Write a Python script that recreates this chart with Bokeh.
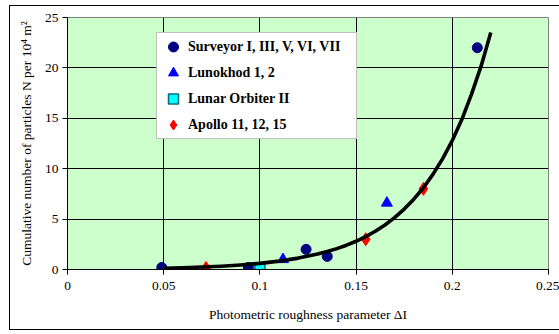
import numpy as np
from bokeh.plotting import figure
from bokeh.models import (Legend, LegendItem, FixedTicker, Range1d, InlineStyleSheet)
from bokeh.embed import file_html
from bokeh.resources import INLINE

# ---- data ----
surveyor_x = [0.049, 0.094, 0.124, 0.135, 0.213]
surveyor_y = [0.2, 0.2, 2.0, 1.3, 22.0]
lunokhod_x = [0.112, 0.166]
lunokhod_y = [1.0, 6.6]
orbiter_x = [0.100]
orbiter_y = [0.05]
apollo_x = [0.072, 0.155, 0.185]
apollo_y = [0.15, 3.0, 8.0]
# trend curve
trend_x = [0.05, 0.06, 0.07, 0.08, 0.09, 0.10, 0.11, 0.12, 0.13, 0.135, 0.14, 0.145,
           0.15, 0.155, 0.16, 0.165, 0.17, 0.175, 0.18, 0.185, 0.19, 0.195,
           0.20, 0.205, 0.21, 0.215, 0.22]
trend_y = [0.13, 0.18, 0.25, 0.33, 0.45, 0.61, 0.83, 1.13, 1.53, 1.78, 2.07, 2.41,
           2.80, 3.26, 3.80, 4.42, 5.15, 5.99, 6.98, 8.11, 9.46, 11.0,
           12.8, 14.9, 17.4, 20.2, 23.5]
series_labels = ["Surveyor I, III, V, VI, VII", "Lunokhod 1, 2",
                 "Lunar Orbiter II", "Apollo 11, 12, 15"]
x_ticks = [0, 0.05, 0.1, 0.15, 0.2, 0.25]
x_tick_labels = ["0", "0.05", "0.1", "0.15", "0.2", "0.25"]
y_ticks = [0, 5, 10, 15, 20, 25]
x_title = "Photometric roughness parameter \u0394I"
y_title = "Cumulative number of particles N per 10\u2074 m\u00b2"

FONT = "Liberation Serif"
W, H = 559, 334
FL, FR, FT, FB = 67, 548, 17, 269   # frame edges in pixels

p = figure(width=W, height=H, x_range=Range1d(0, 0.25), y_range=Range1d(0, 25),
           output_backend="svg", toolbar_location=None,
           min_border_left=FL, min_border_right=W - FR, min_border_top=FT,
           min_border_bottom=H - FB,
           background_fill_color="#CCFFCC", border_fill_color="white",
           outline_line_color="#808080", outline_line_width=1)

# outer chart-area border (drawn by CSS over the whole figure)
p.stylesheets = [InlineStyleSheet(css="""
:host { position: relative; }
:host::after {
  content: ""; position: absolute; left: 9px; top: 5px; width: 550px; height: 325px;
  box-sizing: border-box; border-style: solid; border-color: black;
  border-width: 1.5px 0 1.5px 1.5px; pointer-events: none;
}
""")]

# grids
p.xgrid.ticker = FixedTicker(ticks=x_ticks[1:-1])
p.ygrid.ticker = FixedTicker(ticks=y_ticks[1:-1])
for g in (p.xgrid, p.ygrid):
    g.grid_line_color = "black"
    g.grid_line_width = 1

# axes
p.xaxis.ticker = FixedTicker(ticks=x_ticks)
p.xaxis.major_label_overrides = {t: l for t, l in zip(x_ticks, x_tick_labels)}
p.yaxis.ticker = FixedTicker(ticks=y_ticks)
for ax in (p.xaxis, p.yaxis):
    ax.axis_line_color = "black"
    ax.axis_line_width = 1
    ax.major_tick_line_color = "black"
    ax.major_tick_out = 5
    ax.major_tick_in = 0
    ax.minor_tick_line_color = None
    ax.major_label_text_font = FONT
    ax.major_label_text_font_size = "13.5px"
    ax.major_label_text_color = "black"
    ax.axis_label_text_font = FONT
    ax.axis_label_text_font_size = "13.5px"
    ax.axis_label_text_font_style = "normal"
    ax.axis_label_text_color = "black"
p.xaxis.major_label_standoff = 7
p.yaxis.major_label_standoff = 4
p.xaxis.axis_label = x_title
p.yaxis.axis_label = y_title
p.xaxis.axis_label_standoff = 14
p.yaxis.axis_label_standoff = 8

# markers
r_s = p.scatter(surveyor_x, surveyor_y, marker="circle", size=10,
                fill_color="#000080", line_color="#000080")
r_l = p.scatter(lunokhod_x, lunokhod_y, marker="triangle", size=11,
                fill_color="#0000FF", line_color="#0000FF")
r_o = p.scatter(orbiter_x, orbiter_y, marker="square", size=10,
                fill_color="#00FFFF", line_color="#006C80", line_width=1.5)
r_a = p.scatter(apollo_x, apollo_y, marker="diamond", size=13,
                fill_color="#FF0000", line_color="#FF0000")
p.line(trend_x, trend_y, line_color="black", line_width=3.6, line_join="round")

legend = Legend(items=[LegendItem(label=lab, renderers=[r])
                       for lab, r in zip(series_labels, [r_s, r_l, r_o, r_a])],
                location=(89, 130), orientation="vertical",
                padding=1, spacing=1, margin=0,
                glyph_width=30, glyph_height=25, label_height=25, label_width=167,
                label_standoff=0,
                label_text_font=FONT, label_text_font_style="bold",
                label_text_font_size="14px", label_text_color="black",
                border_line_color="#808080", border_line_width=1,
                background_fill_color="white", background_fill_alpha=1.0)
p.add_layout(legend)

open("out.html", "w").write(file_html(p, INLINE))
